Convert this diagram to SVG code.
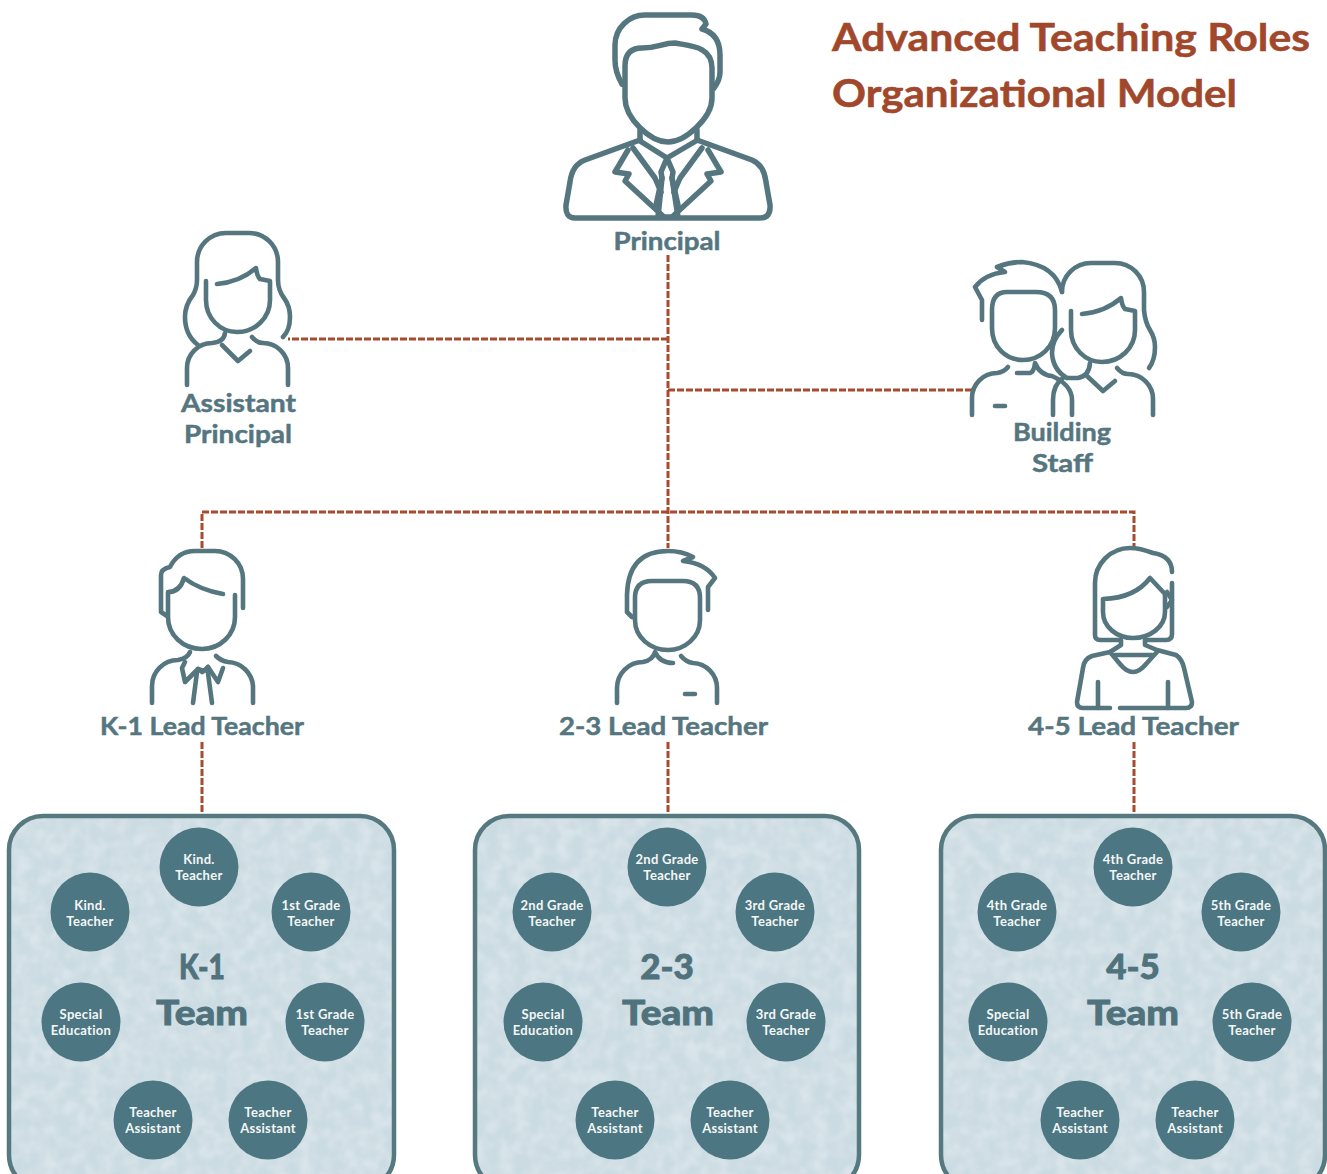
<svg xmlns="http://www.w3.org/2000/svg" width="1327" height="1174" viewBox="0 0 1327 1174">
<style>
.ic{fill:none;stroke:#55767f;stroke-width:4.600;stroke-linecap:round;stroke-linejoin:round}
.ic5{stroke-width:5.500}
.lb{font-family:"Lato","Liberation Sans",sans-serif;font-weight:700;font-size:25px;fill:#55767f;stroke:#55767f;stroke-width:0.500;text-anchor:middle}
.ti{font-family:"Lato","Liberation Sans",sans-serif;font-weight:700;font-size:38px;fill:#a1472b;stroke:#a1472b;stroke-width:0.500}
.tm{font-family:"Lato","Liberation Sans",sans-serif;font-weight:900;font-size:35px;fill:#4f727c;stroke:#4f727c;stroke-width:0.800;text-anchor:middle}
.ct{font-family:"Lato","Liberation Sans",sans-serif;font-weight:700;font-size:13px;letter-spacing:0.300px;fill:#f4f7f7;text-anchor:middle}
.fl{fill:#cbdbe2;filter:url(#mottle)}
.bd{fill:none;stroke:#55797f;stroke-width:4.500}
.cc{fill:#4c7681}
.cn{fill:none;stroke:#a9492e;stroke-width:3;stroke-dasharray:7 2}
</style>
<defs>
<filter id="mottle" x="0" y="0" width="100%" height="100%">
<feTurbulence type="fractalNoise" baseFrequency="0.07" numOctaves="2" seed="4" result="n"/>
<feColorMatrix in="n" type="matrix" values="0 0 0 0 1 0 0 0 0 1 0 0 0 0 1 0 0 0 0.5 -0.16" result="w"/>
<feComposite in="w" in2="SourceGraphic" operator="in" result="m"/>
<feMerge><feMergeNode in="SourceGraphic"/><feMergeNode in="m"/></feMerge>
</filter>
</defs>
<rect width="1327" height="1174" fill="#ffffff"/>
<g id="title">
<text class="ti" x="832" y="51" textLength="478" lengthAdjust="spacingAndGlyphs">Advanced Teaching Roles</text>
<text class="ti" x="832" y="107" textLength="405" lengthAdjust="spacingAndGlyphs">Organizational Model</text>
</g>
<g id="connectors">
<path class="cn" d="M668 255V548"/>
<path class="cn" d="M668 339H288"/>
<path class="cn" d="M668 390H972"/>
<path class="cn" d="M202 548V512H1134V548"/>
<path class="cn" d="M202 742V815"/>
<path class="cn" d="M668 742V815"/>
<path class="cn" d="M1134 742V815"/>
</g>
<g id="principal">
<g class="ic ic5">
<path d="M622 84Q615 72 615 60V45A30 30 0 0 1 646 15H692Q704 15 706 24L702 29Q720 34 720 55V72Q720 80 714 88"/>
<path d="M625 95V66Q625 48 642 48C658 48 662 43 675 43C690 46 712 46 712 68V98C712 118 685 142 668 142C650 142 625 118 625 98Z"/>
<path d="M640 140V130M697 140V130"/>
<path d="M640 140L585 160Q572 165 570 182L566 205Q565 218 575 218H760Q771 218 770 205L766 182Q764 165 752 160L697 140"/>
<path d="M640 141L667 158L696 141"/>
<path d="M628 150L615 172L629 174L625 181L664 217"/>
<path d="M708 150L721 172L707 174L711 181L672 217"/>
<path d="M633 148L655 178L661 192M702 148L680 178L674 192"/>
<path d="M667 158L661 172L662 178L656 205M667 158L673 172L672 178L678 205"/>
<path d="M662 178L658 217H678L672 178"/>
</g>
<text class="lb" x="667" y="250" textLength="107" lengthAdjust="spacingAndGlyphs">Principal</text>
</g>
<g id="assistant-principal">
<g class="ic">
<path d="M198 345Q185 335 185 317Q185 305 193 295Q197 288 197 280V262A29 29 0 0 1 226 233H249A29 29 0 0 1 278 262V280Q278 290 284 298Q290 306 290 317Q290 330 283 337"/>
<path d="M206 281V300C206 318 220 332 237 332C255 332 270 318 270 300V281L260 279Q257 276 256 268Q240 282 217 284"/>
<path d="M187 385V368A25 25 0 0 1 212 343Q224 342 225 333"/>
<path d="M222 345L238 361L250 351"/>
<path d="M252 337Q257 343 263 343A25 25 0 0 1 288 368V385"/>
</g>
<text class="lb" x="238.500" y="412" textLength="115" lengthAdjust="spacingAndGlyphs">Assistant</text>
<text class="lb" x="238" y="443" textLength="108" lengthAdjust="spacingAndGlyphs">Principal</text>
</g>
<g id="building-staff">
<g class="ic">
<path d="M982 320V300L975 287Q985 274 1005 272L997 267Q1010 262 1022 262Q1055 265 1062 292"/>
<path d="M1007 292H1036Q1055 292 1055 310V328C1055 347 1040 360 1023 360C1006 360 992 347 992 328V310Q992 292 1007 292Z"/>
<path d="M972 415V398A25 25 0 0 1 997 373Q1004 372 1008 367"/>
<path d="M1017 373H1030Q1034 372 1035 363Q1040 375 1052 376Q1072 385 1072 400V415"/>
<path d="M1053 415V400Q1053 385 1063 378"/>
<path d="M995 406H1005"/>
<path d="M1062 330Q1052 340 1052 353Q1053 370 1067 378H1078Q1089 376 1090 363"/>
<path d="M1062 292A29 29 0 0 1 1091 263H1115A29 29 0 0 1 1144 292V310Q1145 322 1150 330Q1155 338 1155 347Q1155 360 1149 368"/>
<path d="M1071 311V330C1071 348 1085 362 1102 362C1120 362 1135 348 1135 330V311L1125 309Q1122 306 1121 298Q1105 312 1082 314"/>
<path d="M1087 376L1103 391L1115 381"/>
<path d="M1117 368Q1122 374 1128 374A25 25 0 0 1 1153 399V415"/>
</g>
<text class="lb" x="1062" y="441" textLength="98" lengthAdjust="spacingAndGlyphs">Building</text>
<text class="lb" x="1062.500" y="472" textLength="61" lengthAdjust="spacingAndGlyphs">Staff</text>
</g>
<g id="k1-lead">
<g class="ic">
<path d="M167 616L161 612V575Q161 569 170 567Q178 551 195 551H215A28 28 0 0 1 243 579V608"/>
<path d="M235 595V617C235 635 220 649 202 649C183 649 168 635 168 617V592Q180 592 184 578Q200 590 223 594"/>
<path d="M152 703V686A26 26 0 0 1 178 660Q188 658 190 652"/>
<path d="M216 656Q221 661 228 662A26 26 0 0 1 253 686V703"/>
<path d="M185 662L182 668L185 682L198 669L202 672M208 667L218 682L223 668"/>
<path d="M198 669L204 671L208 667"/>
<path d="M197 672L193 703M208 673L212 703"/>
</g>
<text class="lb" x="202" y="735" textLength="204" lengthAdjust="spacingAndGlyphs">K-1 Lead Teacher</text>
</g>
<g id="l23-lead">
<g class="ic">
<path d="M632 617L627 612V595Q628 551 668 551Q682 551 693 557L683 561Q705 563 715 578L708 587V610"/>
<path d="M652 581H683Q700 581 700 598V620C700 637 685 650 668 650C650 650 635 637 635 620V598Q635 581 652 581Z"/>
<path d="M617 703V688A26 26 0 0 1 643 662Q653 660 655 652Q660 663 673 663"/>
<path d="M681 656Q686 662 693 663A25 25 0 0 1 717 688V703"/>
<path d="M685 694H695"/>
</g>
<text class="lb" x="663.500" y="735" textLength="209" lengthAdjust="spacingAndGlyphs">2-3 Lead Teacher</text>
</g>
<g id="l45-lead">
<g class="ic">
<path d="M1172 572Q1172 556 1153 553Q1140 548 1130 548A35 35 0 0 0 1095 583V635Q1095 640 1100 640H1121V645L1110 652L1092 656Q1084 659 1083 668L1077 702Q1077 708 1083 708H1110"/>
<path d="M1172 583V634Q1172 640 1166 640H1145V645L1157 650L1176 655Q1182 659 1184 668L1192 702Q1192 708 1186 708H1120"/>
<path d="M1103 599V612C1103 627 1117 638 1133 638C1150 638 1165 627 1165 612V594L1150 578Q1135 598 1103 599Z"/>
<path d="M1167 592L1172 600L1167 607"/>
<path d="M1110 652L1120 664Q1133 680 1146 664L1157 652"/>
<path d="M1115 655H1152"/>
<path d="M1098 682V708M1168 682V708"/>
</g>
<text class="lb" x="1133.500" y="735" textLength="211" lengthAdjust="spacingAndGlyphs">4-5 Lead Teacher</text>
</g>
<g id="team-k1">
<rect class="fl" x="9" y="816" width="385" height="373" rx="34"/>
<rect class="bd" x="9" y="816" width="385" height="373" rx="34"/>
<text class="tm" x="202" y="979" textLength="46" lengthAdjust="spacingAndGlyphs">K-1</text>
<text class="tm" x="202" y="1025" textLength="92" lengthAdjust="spacingAndGlyphs">Team</text>
</g>
<g id="team-23">
<rect class="fl" x="475" y="816" width="384" height="373" rx="34"/>
<rect class="bd" x="475" y="816" width="384" height="373" rx="34"/>
<text class="tm" x="667" y="979">2-3</text>
<text class="tm" x="668" y="1025" textLength="92" lengthAdjust="spacingAndGlyphs">Team</text>
</g>
<g id="team-45">
<rect class="fl" x="941" y="816" width="384" height="373" rx="34"/>
<rect class="bd" x="941" y="816" width="384" height="373" rx="34"/>
<text class="tm" x="1133" y="979">4-5</text>
<text class="tm" x="1133" y="1025" textLength="92" lengthAdjust="spacingAndGlyphs">Team</text>
</g>
<g id="k1-c1"><circle class="cc" cx="199" cy="867" r="39.500"/><text class="ct" x="199" y="864">Kind.</text><text class="ct" x="199" y="880">Teacher</text></g>
<g id="k1-c2"><circle class="cc" cx="90" cy="912" r="39.500"/><text class="ct" x="90" y="910">Kind.</text><text class="ct" x="90" y="926">Teacher</text></g>
<g id="k1-c3"><circle class="cc" cx="311" cy="912" r="39.500"/><text class="ct" x="311" y="910">1st Grade</text><text class="ct" x="311" y="926">Teacher</text></g>
<g id="k1-c4"><circle class="cc" cx="81" cy="1022" r="39.500"/><text class="ct" x="81" y="1019">Special</text><text class="ct" x="81" y="1035">Education</text></g>
<g id="k1-c5"><circle class="cc" cx="325" cy="1022" r="39.500"/><text class="ct" x="325" y="1019">1st Grade</text><text class="ct" x="325" y="1035">Teacher</text></g>
<g id="k1-c6"><circle class="cc" cx="153" cy="1120" r="39.500"/><text class="ct" x="153" y="1117">Teacher</text><text class="ct" x="153" y="1133">Assistant</text></g>
<g id="k1-c7"><circle class="cc" cx="268" cy="1120" r="39.500"/><text class="ct" x="268" y="1117">Teacher</text><text class="ct" x="268" y="1133">Assistant</text></g>
<g id="l23-c1"><circle class="cc" cx="667" cy="867" r="39.500"/><text class="ct" x="667" y="864">2nd Grade</text><text class="ct" x="667" y="880">Teacher</text></g>
<g id="l23-c2"><circle class="cc" cx="552" cy="912" r="39.500"/><text class="ct" x="552" y="910">2nd Grade</text><text class="ct" x="552" y="926">Teacher</text></g>
<g id="l23-c3"><circle class="cc" cx="775" cy="912" r="39.500"/><text class="ct" x="775" y="910">3rd Grade</text><text class="ct" x="775" y="926">Teacher</text></g>
<g id="l23-c4"><circle class="cc" cx="543" cy="1022" r="39.500"/><text class="ct" x="543" y="1019">Special</text><text class="ct" x="543" y="1035">Education</text></g>
<g id="l23-c5"><circle class="cc" cx="786" cy="1022" r="39.500"/><text class="ct" x="786" y="1019">3rd Grade</text><text class="ct" x="786" y="1035">Teacher</text></g>
<g id="l23-c6"><circle class="cc" cx="615" cy="1120" r="39.500"/><text class="ct" x="615" y="1117">Teacher</text><text class="ct" x="615" y="1133">Assistant</text></g>
<g id="l23-c7"><circle class="cc" cx="730" cy="1120" r="39.500"/><text class="ct" x="730" y="1117">Teacher</text><text class="ct" x="730" y="1133">Assistant</text></g>
<g id="l45-c1"><circle class="cc" cx="1133" cy="867" r="39.500"/><text class="ct" x="1133" y="864">4th Grade</text><text class="ct" x="1133" y="880">Teacher</text></g>
<g id="l45-c2"><circle class="cc" cx="1017" cy="912" r="39.500"/><text class="ct" x="1017" y="910">4th Grade</text><text class="ct" x="1017" y="926">Teacher</text></g>
<g id="l45-c3"><circle class="cc" cx="1241" cy="912" r="39.500"/><text class="ct" x="1241" y="910">5th Grade</text><text class="ct" x="1241" y="926">Teacher</text></g>
<g id="l45-c4"><circle class="cc" cx="1008" cy="1022" r="39.500"/><text class="ct" x="1008" y="1019">Special</text><text class="ct" x="1008" y="1035">Education</text></g>
<g id="l45-c5"><circle class="cc" cx="1252" cy="1022" r="39.500"/><text class="ct" x="1252" y="1019">5th Grade</text><text class="ct" x="1252" y="1035">Teacher</text></g>
<g id="l45-c6"><circle class="cc" cx="1080" cy="1120" r="39.500"/><text class="ct" x="1080" y="1117">Teacher</text><text class="ct" x="1080" y="1133">Assistant</text></g>
<g id="l45-c7"><circle class="cc" cx="1195" cy="1120" r="39.500"/><text class="ct" x="1195" y="1117">Teacher</text><text class="ct" x="1195" y="1133">Assistant</text></g>
</svg>
